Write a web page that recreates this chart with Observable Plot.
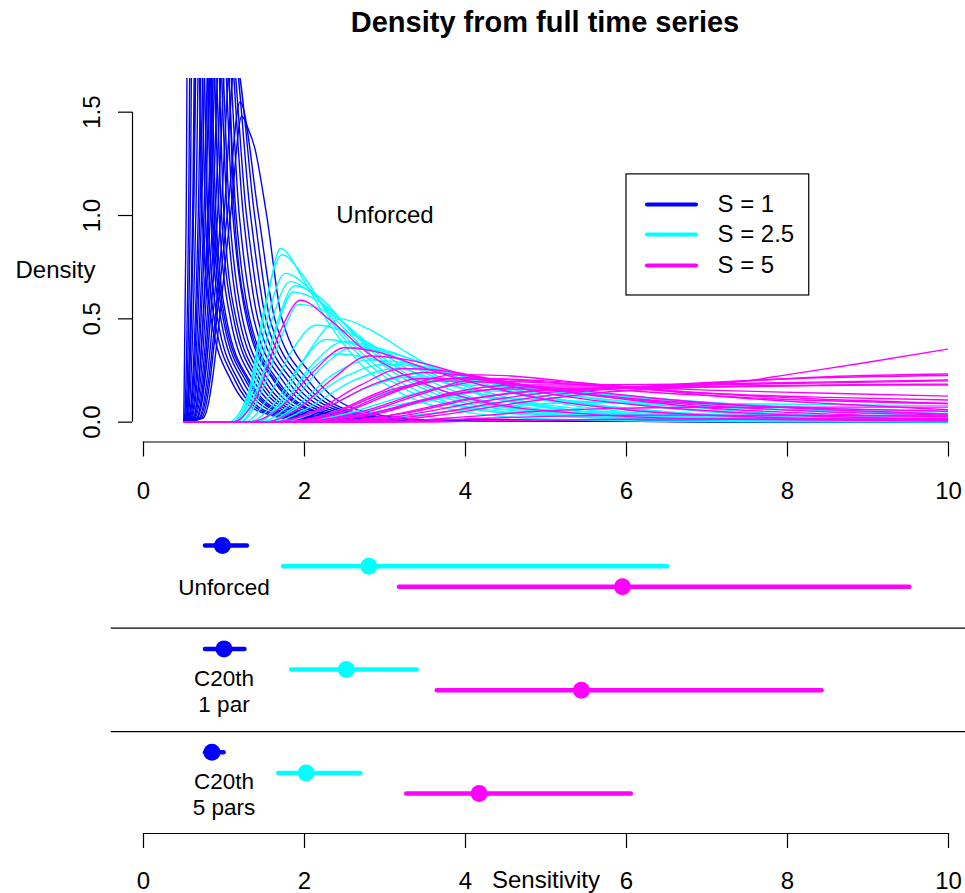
<!DOCTYPE html>
<html>
<head>
<meta charset="utf-8">
<script src="https://cdn.jsdelivr.net/npm/d3@7"></script>
<script src="https://cdn.jsdelivr.net/npm/@observablehq/plot@0.6"></script>
<style>
  body { margin: 0; background: #fff; font-family: "Liberation Sans", Arial, Helvetica, sans-serif; }
  #title { width: 965px; height: 50px; line-height: 44px; box-sizing: border-box; padding-left: 125px;
           text-align: center; font-weight: bold; font-size: 29px; color: #000; }
  #chart svg { display: block; }
</style>
</head>
<body>
<div id="title">Density from full time series</div>
<div id="chart"></div>
<script>
// ---------------- data ----------------
const seriesNames = ["S = 1", "S = 2.5", "S = 5"];
const seriesColors = ["#0000FF", "#00FFFF", "#FF00FF"];
const xTicks = [0, 2, 4, 6, 8, 10];
const yTicks = [0, 0.5, 1, 1.5];

// density curves, [x, density] pairs
const densityS1 = [
  [[0.5,0],[0.53,1],[0.58,4.5],[0.73,1],[0.84,0.5],[1.09,0.2],[1.45,0.05],[2.0,0.01],[10,0]],
  [[0.5,0],[0.51,0.02],[0.56,1],[0.62,4.0],[0.77,1],[0.88,0.5],[1.14,0.2],[1.5,0.05],[2.1,0.01],[10,0]],
  [[0.5,0],[0.52,0.02],[0.58,1],[0.64,3.8],[0.80,1],[0.92,0.5],[1.18,0.2],[1.55,0.05],[2.2,0.01],[10,0]],
  [[0.5,0],[0.53,0.02],[0.61,1],[0.68,3.4],[0.84,1],[0.96,0.5],[1.23,0.2],[1.62,0.05],[2.3,0.01],[10,0]],
  [[0.5,0],[0.54,0.02],[0.62,1],[0.70,3.6],[0.86,1],[0.99,0.5],[1.27,0.2],[1.68,0.05],[2.3,0.01],[10,0]],
  [[0.5,0],[0.55,0.02],[0.65,1],[0.74,3.1],[0.90,1],[1.03,0.5],[1.32,0.2],[1.74,0.05],[2.4,0.01],[10,0]],
  [[0.5,0],[0.56,0.02],[0.68,1],[0.77,3.0],[0.94,1],[1.08,0.5],[1.37,0.2],[1.80,0.05],[2.5,0.01],[10,0]],
  [[0.5,0],[0.57,0.02],[0.70,1],[0.80,2.8],[0.97,1],[1.12,0.5],[1.42,0.2],[1.86,0.05],[2.5,0.01],[10,0]],
  [[0.5,0],[0.58,0.02],[0.72,1],[0.83,2.9],[1.00,1],[1.15,0.5],[1.46,0.2],[1.92,0.05],[2.6,0.01],[10,0]],
  [[0.5,0],[0.59,0.02],[0.75,1],[0.86,2.6],[1.04,1],[1.19,0.5],[1.51,0.2],[1.98,0.05],[2.7,0.01],[10,0]],
  [[0.5,0],[0.60,0.02],[0.77,1],[0.88,2.5],[1.07,1],[1.23,0.5],[1.56,0.2],[2.05,0.05],[2.8,0.01],[10,0]],
  [[0.5,0],[0.62,0.02],[0.80,1],[0.92,2.4],[1.11,1],[1.28,0.5],[1.62,0.2],[2.12,0.05],[2.9,0.01],[10,0]],
  [[0.5,0],[0.63,0.02],[0.83,1],[0.95,2.3],[1.15,1],[1.32,0.5],[1.67,0.2],[2.18,0.05],[3.0,0.01],[10,0]],
  [[0.5,0],[0.64,0.02],[0.86,1],[0.98,2.2],[1.19,1],[1.37,0.5],[1.73,0.2],[2.25,0.05],[3.0,0.01],[10,0]],
  [[0.5,0],[0.66,0.02],[0.89,1],[1.02,2.05],[1.24,1],[1.42,0.5],[1.79,0.2],[2.32,0.05],[3.1,0.01],[10,0]],
  [[0.5,0],[0.67,0.02],[0.92,1],[1.05,1.95],[1.28,1],[1.47,0.5],[1.85,0.2],[2.40,0.05],[3.2,0.01],[10,0]],
  [[0.5,0],[0.69,0.02],[0.96,1],[1.10,1.85],[1.33,1],[1.52,0.5],[1.92,0.2],[2.48,0.05],[3.3,0.01],[10,0]],
  [[0.5,0],[0.70,0.02],[1.00,1],[1.14,1.75],[1.38,1],[1.57,0.5],[1.98,0.2],[2.55,0.05],[3.4,0.01],[10,0]],
  [[0.5,0],[0.72,0.02],[1.04,1],[1.2,1.55],[1.43,1],[1.63,0.5],[2.05,0.2],[2.62,0.05],[3.5,0.01],[10,0]],
  [[0.5,0],[0.74,0.02],[1.08,1],[1.22,1.48],[1.3,1.42],[1.38,1.33],[1.53,1],[1.72,0.5],[2.16,0.2],[2.75,0.05],[3.6,0.01],[10,0]],
  [[0.5,0],[0.53,0.02],[0.62,1],[0.72,3.3],[0.88,1],[1.01,0.5],[1.30,0.2],[1.70,0.05],[2.4,0.01],[10,0]],
  [[0.5,0],[0.62,0.02],[0.81,1],[0.96,2.6],[1.13,1],[1.30,0.5],[1.64,0.2],[2.15,0.05],[2.9,0.01],[10,0]]
];
const densityS25 = [
  [[0.5,0],[1.1,0],[1.3,0.1],[1.45,0.42],[1.55,0.62],[1.7,0.84],[2.0,0.68],[2.3,0.48],[2.7,0.28],[3.2,0.14],[4,0.05],[5,0.015],[7,0.003],[10,0]],
  [[0.5,0],[1.05,0],[1.3,0.14],[1.5,0.55],[1.72,0.81],[2.0,0.7],[2.4,0.45],[2.8,0.28],[3.3,0.15],[4,0.07],[5,0.03],[7,0.01],[10,0.003]],
  [[0.5,0],[1.1,0],[1.35,0.18],[1.55,0.52],[1.76,0.72],[2.05,0.65],[2.5,0.42],[3.0,0.24],[3.6,0.12],[4.5,0.05],[6,0.02],[10,0.005]],
  [[0.5,0],[1.15,0],[1.4,0.2],[1.6,0.5],[1.82,0.68],[2.1,0.62],[2.5,0.45],[3.0,0.27],[3.6,0.14],[4.5,0.06],[6,0.02],[10,0.005]],
  [[0.5,0],[1.2,0],[1.45,0.18],[1.65,0.47],[1.88,0.66],[2.2,0.6],[2.6,0.43],[3.1,0.26],[3.7,0.14],[4.5,0.07],[6,0.025],[8,0.01],[10,0.004]],
  [[0.5,0],[1.15,0],[1.45,0.2],[1.65,0.45],[1.86,0.63],[2.2,0.58],[2.7,0.4],[3.2,0.25],[3.8,0.14],[4.6,0.07],[6,0.03],[8,0.012],[10,0.005]],
  [[0.5,0],[1.2,0],[1.5,0.18],[1.7,0.4],[1.93,0.57],[2.3,0.53],[2.8,0.38],[3.4,0.23],[4,0.13],[5,0.06],[6.5,0.025],[10,0.006]],
  [[0.5,0],[1.25,0],[1.55,0.12],[1.85,0.35],[2.15,0.47],[2.5,0.44],[3.0,0.34],[3.6,0.22],[4.2,0.13],[5,0.07],[6.5,0.03],[8,0.015],[10,0.007]],
  [[0.5,0],[1.4,0],[1.7,0.1],[2.05,0.34],[2.45,0.50],[2.8,0.45],[3.3,0.33],[3.9,0.2],[4.5,0.12],[5.5,0.05],[7,0.02],[10,0.005]],
  [[0.5,0],[1.3,0],[1.6,0.08],[1.95,0.28],[2.27,0.40],[2.7,0.37],[3.2,0.3],[3.8,0.2],[4.5,0.12],[5.5,0.06],[7,0.025],[10,0.008]],
  [[0.5,0],[1.4,0],[1.75,0.1],[2.1,0.28],[2.5,0.39],[2.9,0.36],[3.5,0.28],[4.1,0.19],[4.8,0.12],[6,0.05],[8,0.02],[10,0.008]],
  [[0.5,0],[1.45,0],[1.8,0.08],[2.2,0.26],[2.6,0.36],[3.0,0.34],[3.6,0.27],[4.2,0.19],[5,0.11],[6,0.06],[8,0.02],[10,0.01]],
  [[0.5,0],[1.5,0],[1.9,0.08],[2.35,0.23],[2.8,0.30],[3.2,0.29],[3.8,0.24],[4.5,0.17],[5.3,0.1],[6.5,0.05],[8,0.025],[10,0.012]],
  [[0.5,0],[1.6,0],[2.0,0.06],[2.6,0.2],[3.15,0.26],[3.6,0.25],[4.2,0.21],[5,0.15],[6,0.09],[7,0.05],[8.5,0.025],[10,0.015]],
  [[0.5,0],[1.7,0],[2.2,0.06],[2.8,0.17],[3.3,0.22],[3.8,0.21],[4.5,0.18],[5.3,0.13],[6.3,0.09],[7.5,0.05],[10,0.02]],
  [[0.5,0],[1.8,0],[2.3,0.04],[3.0,0.14],[3.6,0.2],[4.1,0.195],[4.8,0.17],[5.5,0.14],[6.5,0.1],[8,0.06],[10,0.03]],
  [[0.5,0],[1.9,0],[2.5,0.04],[3.2,0.12],[4.0,0.18],[4.6,0.17],[5.3,0.15],[6.2,0.12],[7.2,0.09],[8.5,0.06],[10,0.04]],
  [[0.5,0],[2.0,0],[2.6,0.03],[3.4,0.09],[4.3,0.15],[5,0.145],[5.8,0.13],[6.8,0.1],[8,0.075],[10,0.05]],
  [[0.5,0],[1.8,0],[2.4,0.03],[3.1,0.08],[3.8,0.12],[4.5,0.115],[5.5,0.1],[6.5,0.08],[8,0.06],[10,0.04]],
  [[0.5,0],[2.2,0],[3.0,0.02],[4,0.06],[5,0.09],[6,0.095],[7,0.09],[8.5,0.085],[10,0.08]],
  [[0.5,0],[1.35,0],[1.7,0.08],[2.05,0.24],[2.4,0.33],[2.8,0.31],[3.3,0.25],[3.9,0.17],[4.6,0.1],[5.5,0.05],[7,0.02],[10,0.006]],
  [[0.5,0],[1.55,0],[1.95,0.08],[2.5,0.22],[3.0,0.28],[3.4,0.27],[4.0,0.22],[4.7,0.15],[5.5,0.09],[6.5,0.05],[8,0.025],[10,0.01]]
];
const densityS5 = [
  [[0.5,0],[1.1,0],[1.4,0.12],[1.7,0.44],[1.95,0.59],[2.3,0.5],[2.8,0.33],[3.4,0.2],[4.2,0.1],[5.5,0.04],[7,0.015],[10,0.005]],
  [[0.5,0],[1.3,0],[1.7,0.07],[2.1,0.24],[2.5,0.36],[2.9,0.34],[3.5,0.26],[4.2,0.18],[5,0.11],[6,0.06],[8,0.02],[10,0.008]],
  [[0.5,0],[1.5,0],[1.9,0.06],[2.35,0.21],[2.8,0.32],[3.3,0.3],[3.9,0.24],[4.6,0.17],[5.5,0.11],[6.5,0.07],[8,0.035],[10,0.015]],
  [[0.5,0],[1.6,0],[2.1,0.05],[2.7,0.18],[3.22,0.26],[3.7,0.25],[4.3,0.21],[5,0.16],[6,0.11],[7,0.07],[8.5,0.04],[10,0.025]],
  [[0.5,0],[1.7,0],[2.3,0.04],[2.9,0.14],[3.4,0.21],[4,0.21],[4.7,0.18],[5.5,0.15],[6.5,0.11],[8,0.07],[10,0.04]],
  [[0.5,0],[1.8,0],[2.4,0.04],[3.1,0.15],[3.9,0.23],[4.5,0.225],[5.2,0.2],[6,0.17],[7,0.13],[8.5,0.09],[10,0.06]],
  [[0.5,0],[2,0],[2.7,0.04],[3.4,0.13],[4.2,0.21],[5,0.2],[6,0.17],[7,0.14],[8.5,0.11],[10,0.09]],
  [[0.5,0],[2.2,0],[3,0.03],[4,0.11],[5,0.155],[6,0.165],[7,0.17],[8,0.175],[9,0.18],[10,0.18]],
  [[0.5,0],[2.0,0],[2.8,0.04],[3.8,0.13],[4.8,0.17],[6,0.17],[7,0.18],[8.5,0.19],[10,0.2]],
  [[0.5,0],[2.4,0],[3.2,0.03],[4.2,0.1],[5.2,0.15],[6,0.165],[7,0.18],[7.5,0.2],[8,0.23],[9,0.29],[10,0.354]],
  [[0.5,0],[2.3,0],[3.2,0.04],[4.2,0.12],[5.2,0.16],[6.2,0.17],[7.5,0.2],[8.5,0.22],[10,0.233]],
  [[0.5,0],[2.5,0],[3.4,0.03],[4.5,0.1],[5.5,0.15],[6.5,0.18],[8,0.21],[10,0.226]],
  [[0.5,0],[2.1,0],[2.9,0.04],[3.8,0.14],[4.6,0.18],[5.5,0.18],[7,0.185],[8.5,0.195],[10,0.204]],
  [[0.5,0],[2.6,0],[3.6,0.03],[4.6,0.09],[5.6,0.14],[6.6,0.165],[8,0.178],[10,0.184]],
  [[0.5,0],[1.9,0],[2.7,0.05],[3.6,0.16],[4.3,0.2],[5,0.19],[6,0.17],[7,0.155],[8.5,0.14],[10,0.126]],
  [[0.5,0],[1.8,0],[2.5,0.05],[3.3,0.17],[4,0.215],[4.8,0.2],[5.8,0.17],[7,0.14],[8.5,0.12],[10,0.107]],
  [[0.5,0],[2.8,0],[3.8,0.02],[5,0.055],[6,0.068],[7,0.072],[8.5,0.073],[10,0.073]],
  [[0.5,0],[1.7,0],[2.4,0.05],[3.1,0.16],[3.7,0.2],[4.4,0.19],[5.2,0.15],[6.2,0.11],[7.5,0.08],[10,0.053]],
  [[0.5,0],[3,0],[4,0.015],[5,0.028],[6.5,0.034],[8,0.032],[10,0.03]],
  [[0.5,0],[3.2,0],[4.5,0.008],[6,0.014],[8,0.016],[10,0.015]],
  [[0.5,0],[1.6,0],[2.2,0.06],[2.9,0.19],[3.5,0.24],[4.1,0.22],[4.9,0.17],[5.8,0.12],[7,0.08],[8.5,0.05],[10,0.035]],
  [[0.5,0],[2.0,0],[2.8,0.04],[3.6,0.12],[4.5,0.16],[5.5,0.16],[6.5,0.14],[8,0.11],[10,0.09]]
];

const panelNote = [{x: 3, y: 1, text: "Unforced"}];

// bottom panel: sensitivity ranges per experiment (rows) and S (columns)
const groupLabels = ["Unforced", "C20th\n1 par", "C20th\n5 pars"];
const rangeLow  = [[0.77, 1.74, 3.18], [0.77, 1.84, 3.65], [0.77, 1.68, 3.27]];
const rangeMid  = [[0.98, 2.80, 5.95], [1.00, 2.52, 5.44], [0.85, 2.02, 4.17]];
const rangeHigh = [[1.29, 6.51, 9.52], [1.26, 3.40, 8.43], [1.00, 2.70, 6.06]];
const groupLabelX = 1;

// ---------------- build ----------------
const font = '"Liberation Sans", Arial, Helvetica, sans-serif';
const densitySets = [densityS1, densityS25, densityS5];
const curveRows = [];
densitySets.forEach((set, si) => set.forEach((curve, ci) =>
  curve.forEach(([x, y]) => curveRows.push({x, y, id: si + "-" + ci, series: si}))));

const legendRows = seriesNames.map((name, i) => ({name, color: seriesColors[i], i}));
// legend geometry (data units of the top panel)
const legendBox = {x1: 6.0, x2: 8.27, y1: 0.613, y2: 1.199};
const legendLineX = [6.26, 6.87], legendTextX = 7.13, legendY = [1.053, 0.908, 0.758];

const yDomainTop = [-0.096, 1.663];
const xFirst = xTicks[0], xLast = xTicks[xTicks.length - 1];
const yAxisLine = [{x: xFirst, y1: yTicks[0], y2: yTicks[yTicks.length - 1]}];

const topPlot = Plot.plot({
  width: 965, height: 470,
  marginLeft: 143, marginRight: 17, marginTop: 28, marginBottom: 78.5,
  x: {domain: [xFirst, xLast]},
  y: {domain: yDomainTop},
  color: {type: "identity"},
  style: {fontFamily: font, fontSize: "24px", color: "#000", background: "#fff", overflow: "visible"},
  marks: [
    ...seriesColors.map((c, si) => Plot.line(curveRows.filter(d => d.series === si), {
      x: "x", y: "y", z: "id", stroke: c, strokeWidth: 1.4, curve: "monotone-x", clip: true
    })),
    Plot.text(panelNote, {x: "x", y: "y", text: "text", fontSize: 24}),
    Plot.rect([legendBox], {x1: "x1", x2: "x2", y1: "y1", y2: "y2", fill: "#fff", stroke: "#000", strokeWidth: 1.2}),
    Plot.ruleY(legendRows, {y: d => legendY[d.i], x1: legendLineX[0], x2: legendLineX[1], stroke: "color", strokeWidth: 4, strokeLinecap: "round"}),
    Plot.text(legendRows, {x: legendTextX, y: d => legendY[d.i], text: "name", textAnchor: "start", fontSize: 24}),
    Plot.ruleY([yDomainTop[0]], {x1: xFirst, x2: xLast, stroke: "#000", strokeWidth: 1.2}),
    Plot.axisX(xTicks, {tickSize: 15, tickPadding: 25, tickFormat: d => String(d), label: null, fontSize: 24, strokeWidth: 1.2}),
    Plot.ruleX(yAxisLine, {x: "x", y1: "y1", y2: "y2", dx: -11, stroke: "#000", strokeWidth: 1.2}),
    Plot.axisY(yTicks, {tickSize: 14, dx: -11, tickRotate: -90, tickPadding: 26, textAnchor: "middle", lineAnchor: "middle",
      tickFormat: d => d.toFixed(1), label: null, fontSize: 24, strokeWidth: 1.2}),
    Plot.text(["Density"], {frameAnchor: "left", textAnchor: "middle", lineAnchor: "middle", dx: -88, dy: 10, fontSize: 24})
  ]
});

const ROWS_PER_GROUP = 5;
const intervals = [];
groupLabels.forEach((g, gi) => seriesNames.forEach((s, si) => intervals.push({
  group: g, series: s, color: seriesColors[si],
  lo: rangeLow[gi][si], mid: rangeMid[gi][si], hi: rangeHigh[gi][si],
  pos: gi * ROWS_PER_GROUP + si
})));
const separators = groupLabels.slice(1).map((g, i) => (i + 1) * ROWS_PER_GROUP - 1);
const groupRows = groupLabels.map((label, gi) => ({label, pos: gi * ROWS_PER_GROUP + 2}));
const yDomainBottom = [-1.21, 13.93];
const xPad = 0.04 * (xLast - xFirst);

const bottomPlot = Plot.plot({
  width: 965, height: 373,
  marginLeft: 143, marginRight: 17, marginTop: 0, marginBottom: 60,
  x: {domain: [xFirst, xLast]},
  y: {domain: yDomainBottom, reverse: true, axis: null},
  color: {type: "identity"},
  style: {fontFamily: font, fontSize: "24px", color: "#000", background: "#fff", overflow: "visible"},
  marks: [
    Plot.ruleY(separators, {x1: xFirst - xPad, x2: xLast + xPad, stroke: "#000", strokeWidth: 1.3}),
    Plot.ruleY(intervals, {y: "pos", x1: "lo", x2: "hi", stroke: "color", strokeWidth: 4.5, strokeLinecap: "round"}),
    Plot.dot(intervals, {x: "mid", y: "pos", r: 8.5, fill: "color", stroke: null}),
    Plot.text(groupRows, {x: groupLabelX, y: "pos", text: "label", fontSize: 22.5, lineHeight: 1.16}),
    Plot.ruleY([yDomainBottom[1]], {x1: xFirst, x2: xLast, stroke: "#000", strokeWidth: 1.2}),
    Plot.axisX(xTicks, {tickSize: 15, tickPadding: 23, tickFormat: d => String(d), label: null, fontSize: 24, strokeWidth: 1.2}),
    Plot.text(["Sensitivity"], {frameAnchor: "bottom", textAnchor: "middle", lineAnchor: "middle", dy: 47, fontSize: 24})
  ]
});

const chart = document.getElementById("chart");
chart.appendChild(topPlot);
chart.appendChild(bottomPlot);
</script>
</body>
</html>
